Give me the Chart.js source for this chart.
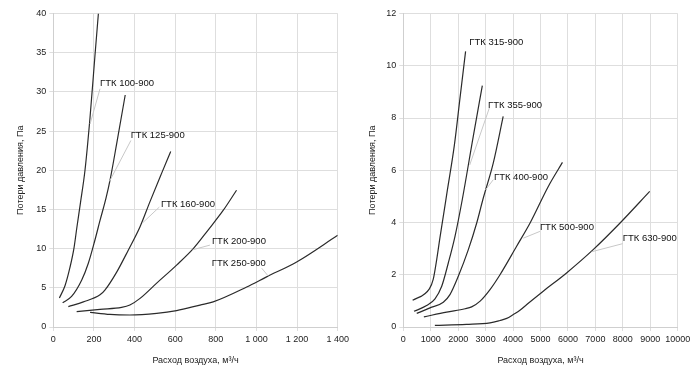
<!DOCTYPE html>
<html>
<head>
<meta charset="utf-8">
<script src="https://cdn.jsdelivr.net/npm/chart.js@4.4.1/dist/chart.umd.min.js"></script>
<style>
html, body { margin: 0; padding: 0; background: #fff; }
#wrap { position: relative; width: 700px; height: 382px; }
.box { position: absolute; top: 0; width: 350px; height: 382px; }
</style>
</head>
<body>
<div id="wrap">
    <div class="box" style="left:0"><canvas id="graficoIzq" width="350" height="382"></canvas></div>
    <div class="box" style="left:350px"><canvas id="graficoDer" width="350" height="382"></canvas></div>
</div>
<script>
// Datos: caudal (m3/h) y perdida de presion (Pa)
var gtk100x = [30, 58, 82, 102, 116, 134, 156, 181, 205, 222];
var gtk100y = [3.7, 5.3, 7.6, 10.1, 12.7, 15.9, 20, 26.8, 34.6, 40];
var gtk125x = [46, 90, 140, 172, 205, 230, 260, 282, 312, 354];
var gtk125y = [3.1, 3.9, 6.0, 8.1, 11.1, 13.6, 16.5, 19.1, 23.4, 29.6];
var gtk160x = [74, 148, 230, 254, 312, 369, 427, 476, 533, 578];
var gtk160y = [2.6, 3.2, 4.1, 4.7, 7.0, 9.8, 12.8, 16.0, 19.6, 22.4];
var gtk200x = [115, 230, 336, 377, 427, 509, 607, 689, 763, 837, 902];
var gtk200y = [1.95, 2.25, 2.5, 2.8, 3.65, 5.6, 7.9, 10.0, 12.4, 14.9, 17.45];
var gtk250x = [181, 279, 377, 509, 607, 722, 787, 952, 1050, 1198, 1400];
var gtk250y = [1.87, 1.6, 1.53, 1.74, 2.1, 2.8, 3.2, 5.1, 6.4, 8.3, 11.7];

var gtk315x = [340, 950, 1090, 1220, 1340, 1460, 1600, 1860, 2070, 2270];
var gtk315y = [1.02, 1.46, 1.82, 2.6, 3.45, 4.25, 5.2, 6.95, 8.8, 10.55];
var gtk355x = [390, 850, 1155, 1400, 1640, 1884, 2150, 2550, 2880];
var gtk355y = [0.6, 0.82, 1.08, 1.56, 2.45, 3.47, 4.88, 7.3, 9.24];
var gtk400x = [490, 973, 1458, 1700, 2004, 2370, 2675, 2900, 3280, 3640];
var gtk400y = [0.52, 0.73, 0.95, 1.24, 1.94, 2.96, 3.98, 4.88, 6.28, 8.06];
var gtk500x = [750, 1580, 2250, 2490, 2800, 3160, 3524, 4130, 4620, 5284, 5800];
var gtk500y = [0.39, 0.57, 0.7, 0.77, 0.99, 1.43, 2.0, 3.09, 3.98, 5.38, 6.3];
var gtk630x = [1150, 2300, 3160, 3520, 3770, 4010, 4250, 4500, 5100, 5950, 6920, 7900, 8980];
var gtk630y = [0.06, 0.1, 0.16, 0.25, 0.33, 0.48, 0.64, 0.86, 1.37, 2.07, 2.96, 3.98, 5.19];

// Etiquetas de los ejes
var ticksIzqX = ['0', '200', '400', '600', '800', '1 000', '1 200', '1 400'];
var ticksIzqY = ['0', '5', '10', '15', '20', '25', '30', '35', '40'];
var ticksDerX = ['0', '1000', '2000', '3000', '4000', '5000', '6000', '7000', '8000', '9000', '10000'];
var ticksDerY = ['0', '2', '4', '6', '8', '10', '12'];

var nombresIzq = ['ГТК 100-900', 'ГТК 125-900', 'ГТК 160-900', 'ГТК 200-900', 'ГТК 250-900'];
var nombresDer = ['ГТК 315-900', 'ГТК 355-900', 'ГТК 400-900', 'ГТК 500-900', 'ГТК 630-900'];

var tituloX = 'Расход воздуха, м³/ч';
var tituloY = 'Потери давления, Па';

// Donde va cada rotulo (en unidades del grafico) y su linea guia
var rotulosIzq = [
    { texto: nombresIzq[0], en: [230, 31.1], guia: [[230, 30.4], [181, 25.9]] },
    { texto: nombresIzq[1], en: [381, 24.5], guia: [[382, 23.8], [277, 18.6]] },
    { texto: nombresIzq[2], en: [530, 15.7], guia: [[522, 15.3], [440, 13.3]] },
    { texto: nombresIzq[3], en: [781, 10.9], guia: [[771, 10.45], [686, 9.85]] },
    { texto: nombresIzq[4], en: [780, 8.1], guia: [[1026, 7.5], [1058, 6.5]] }
];
var rotulosDer = [
    { texto: nombresDer[0], en: [2405, 10.9], guia: null },
    { texto: nombresDer[1], en: [3087, 8.48], guia: [[3134, 8.38], [2420, 6.2]] },
    { texto: nombresDer[2], en: [3305, 5.72], guia: [[3280, 5.64], [3000, 5.25]] },
    { texto: nombresDer[3], en: [4980, 3.82], guia: [[4980, 3.66], [4373, 3.4]] },
    { texto: nombresDer[4], en: [7998, 3.40], guia: [[7995, 3.19], [6866, 2.88]] }
];

Chart.defaults.font.family = '"Liberation Sans", Arial, sans-serif';
Chart.defaults.font.size = 9;
Chart.defaults.color = '#222';

function puntos(xs, ys) {
    return xs.map(function(x, i) { return { x: x, y: ys[i] }; });
}

function serie(nombre, xs, ys) {
    return {
        label: nombre,
        data: puntos(xs, ys),
        borderColor: '#2b2b2b',
        borderWidth: 1.2,
        pointRadius: 0,
        fill: false,
        cubicInterpolationMode: 'monotone'
    };
}

// Plugin para dibujar los rotulos con su linea guia
var pluginRotulos = {
    id: 'rotulos',
    afterDatasetsDraw: function(chart, args, opts) {
        var ctx = chart.ctx;
        var sx = chart.scales.x, sy = chart.scales.y;
        ctx.save();
        opts.lista.forEach(function(r) {
            if (r.guia) {
                ctx.strokeStyle = '#c8c8c8';
                ctx.lineWidth = 1;
                ctx.beginPath();
                ctx.moveTo(sx.getPixelForValue(r.guia[0][0]), sy.getPixelForValue(r.guia[0][1]));
                ctx.lineTo(sx.getPixelForValue(r.guia[1][0]), sy.getPixelForValue(r.guia[1][1]));
                ctx.stroke();
            }
            ctx.fillStyle = '#111';
            ctx.font = '9.5px "Liberation Sans", Arial, sans-serif';
            ctx.textAlign = 'left';
            ctx.textBaseline = 'middle';
            ctx.fillText(r.texto, sx.getPixelForValue(r.en[0]), sy.getPixelForValue(r.en[1]));
        });
        ctx.restore();
    }
};

function crearGrafico(idCanvas, series, maxX, pasoX, etiquetasX, maxY, pasoY, etiquetasY, rotulos, margenDer, margenTituloY) {
    var ctx = document.getElementById(idCanvas).getContext('2d');
    return new Chart(ctx, {
        type: 'line',
        data: { datasets: series },
        plugins: [pluginRotulos],
        options: {
            responsive: false,
            animation: false,
            layout: { padding: { left: 0, right: margenDer, top: 13.5, bottom: 0 } },
            plugins: {
                legend: { display: false },
                tooltip: { enabled: false },
                rotulos: { lista: rotulos }
            },
            scales: {
                x: {
                    type: 'linear',
                    min: 0,
                    max: maxX,
                    afterFit: function(scale) {
                        scale.height = 55;
                        scale.paddingLeft = 0;
                        scale.paddingRight = 0;
                    },
                    ticks: {
                        stepSize: pasoX,
                        padding: 3,
                        maxRotation: 0,
                        autoSkip: false,
                        callback: function(v) { return etiquetasX[Math.round(v / pasoX)]; }
                    },
                    grid: { color: '#dedede', tickLength: 4 },
                    border: { color: '#cfcfcf' },
                    title: { display: true, text: tituloX, color: '#222', padding: { top: 0, bottom: 16 } }
                },
                y: {
                    min: 0,
                    max: maxY,
                    afterFit: function(scale) {
                        scale.width = 53.3;
                        scale.paddingTop = 0;
                        scale.paddingBottom = 0;
                    },
                    ticks: {
                        stepSize: pasoY,
                        padding: 3,
                        callback: function(v) { return etiquetasY[Math.round(v / pasoY)]; }
                    },
                    grid: { color: '#dedede', tickLength: 4 },
                    border: { color: '#cfcfcf' },
                    title: { display: true, text: tituloY, color: '#222', padding: { top: margenTituloY, bottom: margenTituloY } }
                }
            }
        }
    });
}

var graficoIzq = crearGrafico('graficoIzq', [
    serie(nombresIzq[0], gtk100x, gtk100y),
    serie(nombresIzq[1], gtk125x, gtk125y),
    serie(nombresIzq[2], gtk160x, gtk160y),
    serie(nombresIzq[3], gtk200x, gtk200y),
    serie(nombresIzq[4], gtk250x, gtk250y)
], 1400, 200, ticksIzqX, 40, 5, ticksIzqY, rotulosIzq, 12.3, 15.5);

var graficoDer = crearGrafico('graficoDer', [
    serie(nombresDer[0], gtk315x, gtk315y),
    serie(nombresDer[1], gtk355x, gtk355y),
    serie(nombresDer[2], gtk400x, gtk400y),
    serie(nombresDer[3], gtk500x, gtk500y),
    serie(nombresDer[4], gtk630x, gtk630y)
], 10000, 1000, ticksDerX, 12, 2, ticksDerY, rotulosDer, 22.3, 17.5);
</script>
</body>
</html>
